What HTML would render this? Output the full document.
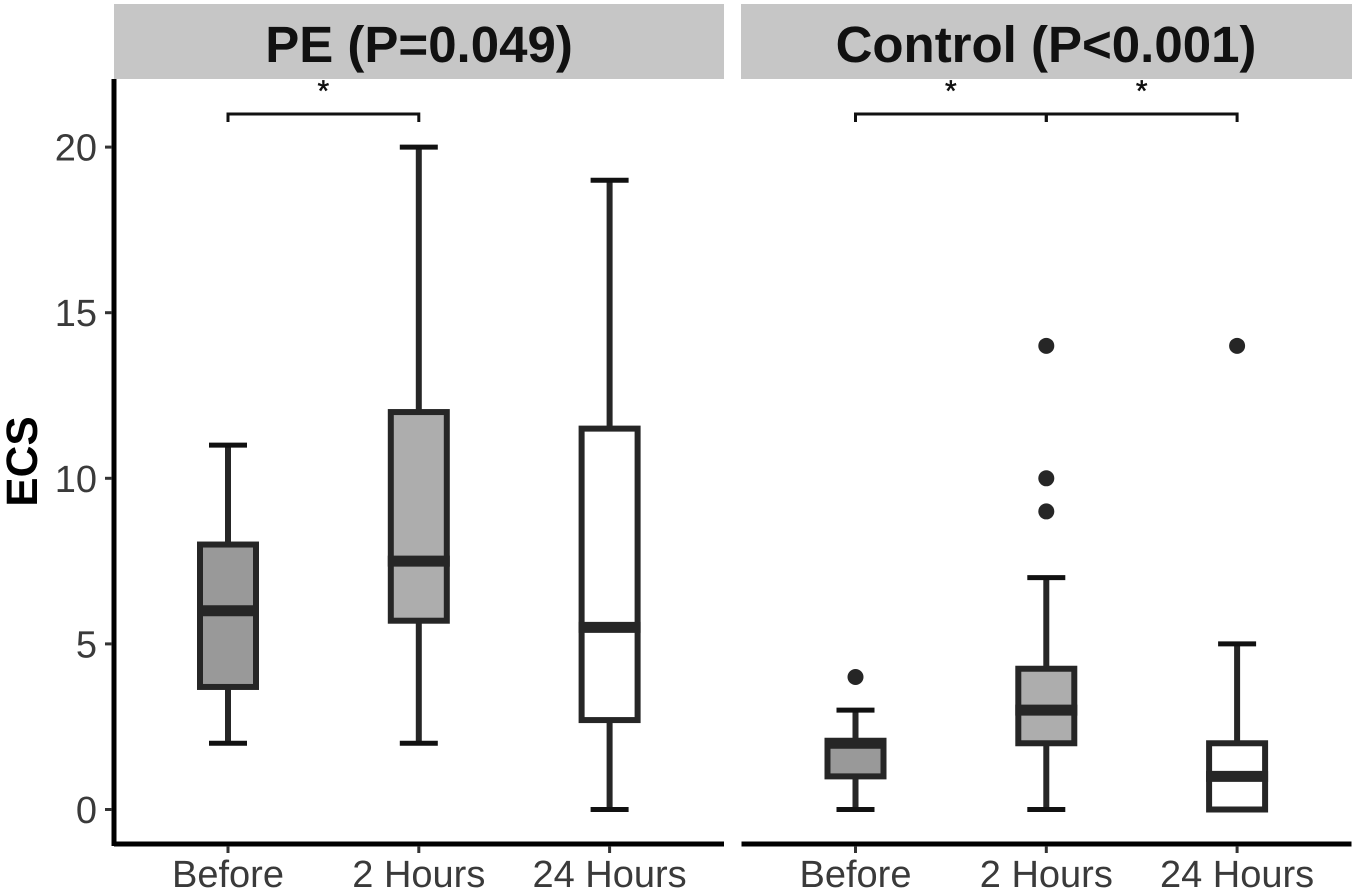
<!DOCTYPE html>
<html lang="en">
<head>
<meta charset="utf-8">
<title>ECS box plots</title>
<style>
html,body{margin:0;padding:0;background:#fff;width:1355px;height:891px;overflow:hidden}
svg{display:block;font-family:"Liberation Sans",Arial,sans-serif;text-rendering:geometricPrecision}
</style>
</head>
<body>
<svg id="chart" xmlns="http://www.w3.org/2000/svg" width="1355" height="891" viewBox="0 0 1355 891">
  <rect x="0" y="0" width="1355" height="891" fill="#ffffff"/>
  <rect x="114" y="4" width="610" height="75" fill="#c6c6c6"/>
  <text x="419" y="62" text-anchor="middle" font-size="51" font-weight="bold" fill="#111111">PE (P=0.049)</text>
  <rect x="741" y="4" width="611" height="75" fill="#c6c6c6"/>
  <text x="1046" y="62" text-anchor="middle" font-size="51" font-weight="bold" fill="#111111">Control (P&lt;0.001)</text>
  <text transform="translate(37,461.5) rotate(-90)" text-anchor="middle" font-size="44" font-weight="bold" fill="#000000">ECS</text>
  <g id="layer"></g>
</svg>
<script>
const categories = ["Before", "2 Hours", "24 Hours"];
const yTicks = [0, 5, 10, 15, 20];
const boxFills = ["#999999", "#adadad", "#ffffff"];

const peLow = [2, 2, 0];
const peQ1 = [3.7, 5.7, 2.7];
const peMedian = [6, 7.5, 5.5];
const peQ3 = [8, 12, 11.5];
const peHigh = [11, 20, 19];
const peOutliers = [[], [], []];
const peBrackets = [[0, 1]];

const controlLow = [0, 0, 0];
const controlQ1 = [1, 2, 0];
const controlMedian = [2, 3, 1];
const controlQ3 = [2, 4.25, 2];
const controlHigh = [3, 7, 5];
const controlOutliers = [[4], [9, 10, 14], [14]];
const controlBrackets = [[0, 1], [1, 2]];

const bracketLevel = 21;

const NS = "http://www.w3.org/2000/svg";
const layer = document.getElementById("layer");

function yScale(v) { return 809.5 - v * 33.12; }
function xScale(panelLeft, i) { return panelLeft + 114 + i * 190.8; }

function make(tag, attrs, text) {
  const el = document.createElementNS(NS, tag);
  for (const k in attrs) el.setAttribute(k, attrs[k]);
  if (text !== undefined) el.textContent = text;
  layer.appendChild(el);
  return el;
}

function drawAxes(prefix, panelLeft, panelWidth, showY) {
  const axisX = make("line", { x1: panelLeft, x2: panelLeft + panelWidth, y1: 844, y2: 844, stroke: "#000", "stroke-width": 5 });
  
  
  if (showY) {
    const axisY = make("line", { x1: panelLeft, x2: panelLeft, y1: 79, y2: 846, stroke: "#000", "stroke-width": 5 });
    
    
    yTicks.forEach(function (t) {
      const tick = make("line", { x1: 105, x2: 112, y1: yScale(t), y2: yScale(t), stroke: "#333", "stroke-width": 3 });
      
      
      const label = make("text", { x: 97, y: yScale(t) + 13.5, "text-anchor": "end", "font-size": 38, fill: "#3a3a3a" }, String(t));
      
      
    });
  }
  categories.forEach(function (c, i) {
    const x = xScale(panelLeft, i);
    const tick = make("line", { x1: x, x2: x, y1: 846, y2: 853, stroke: "#333", "stroke-width": 3 });
    
    
    const label = make("text", { x: x, y: 887, "text-anchor": "middle", "font-size": 38, fill: "#3a3a3a" }, c);
    
    
  });
}

function drawBoxes(prefix, panelLeft, low, q1, median, q3, high, outliers) {
  categories.forEach(function (c, i) {
    const x = xScale(panelLeft, i);
    const stem = make("line", { x1: x, x2: x, y1: yScale(high[i]), y2: yScale(low[i]), stroke: "#262626", "stroke-width": 6 });
    
    
    [high[i], low[i]].forEach(function (v) {
      const cap = make("line", { x1: x - 19, x2: x + 19, y1: yScale(v), y2: yScale(v), stroke: "#111", "stroke-width": 5 });
      
      
    });
    const box = make("rect", { x: x - 28, y: yScale(q3[i]), width: 56, height: yScale(q1[i]) - yScale(q3[i]), fill: boxFills[i], stroke: "#262626", "stroke-width": 6 });
    
    
    const med = make("line", { x1: x - 31, x2: x + 31, y1: yScale(median[i]), y2: yScale(median[i]), stroke: "#262626", "stroke-width": 11 });
    
    
    outliers[i].forEach(function (v) {
      const dot = make("circle", { cx: x, cy: yScale(v), r: 8, fill: "#262626" });
      
      
    });
  });
}

function drawBrackets(prefix, panelLeft, brackets) {
  brackets.forEach(function (b) {
    const x1 = xScale(panelLeft, b[0]);
    const x2 = xScale(panelLeft, b[1]);
    const y = yScale(bracketLevel);
    const path = make("path", { d: "M" + x1 + " " + (y + 8) + "V" + y + "H" + x2 + "V" + (y + 8), fill: "none", stroke: "#111", "stroke-width": 3 });
    
    
    const star = make("text", { x: (x1 + x2) / 2, y: y - 13, "text-anchor": "middle", "font-size": 30, fill: "#111", stroke: "#111", "stroke-width": 0.5 }, "*");
    
    
  });
}

drawAxes("pe", 114, 610, true);
drawAxes("control", 741.5, 610, false);
drawBrackets("pe", 114, peBrackets);
drawBrackets("control", 741.5, controlBrackets);
drawBoxes("pe", 114, peLow, peQ1, peMedian, peQ3, peHigh, peOutliers);
drawBoxes("control", 741.5, controlLow, controlQ1, controlMedian, controlQ3, controlHigh, controlOutliers);
</script>
</body>
</html>
